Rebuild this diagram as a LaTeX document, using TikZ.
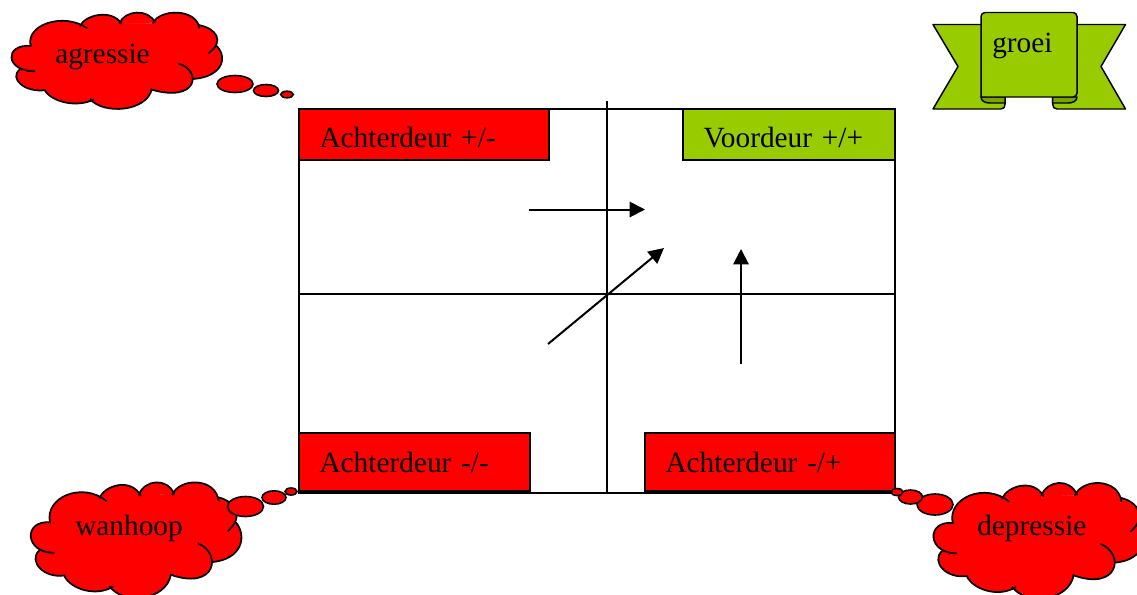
\documentclass[tikz,border=0pt]{standalone}
\usepackage{fontspec}
\setmainfont[WordSpace=0.75]{Liberation Serif}
\usetikzlibrary{arrows.meta,shapes.geometric}
\definecolor{doorred}{HTML}{FF0000}
\definecolor{growgreen}{HTML}{99CC00}
\definecolor{folddark}{HTML}{7AA300}
\def\px{.75pt}
\def\cloudarcs{92/138/75/75/190/35/262/85,240/78/255/45/335/25/365/72,358/70/375/30/445/25/465/68,458/70/480/25/590/25/598/85,595/75/650/85/675/125/625/160,650/138/685/175/665/230/580/237,535/190/610/215/590/310/452/268,455/268/440/335/310/345/270/297,282/298/230/325/155/305/135/272,138/270/75/280/25/235/60/208,105/214/15/215/10/130/95/138}
\tikzset{
	label text/.style={font=\fontsize{22}{26}\selectfont,inner sep=0pt,anchor=base west},
	doorbox/.style 2 args={draw,line width=1.2pt,fill=#2,anchor=north west,outer sep=0pt,inner xsep=20.5*\px,inner ysep=0pt,text width=(#1-41)*\px,align=left,font=\fontsize{22}{26}\selectfont},
	doorrow/.style 2 args={text height=#1*\px,text depth=#2*\px},
	bubble/.style 2 args={ellipse,draw,line width=1.2pt,fill=doorred,inner sep=0pt,minimum width=#1*\px,minimum height=#2*\px},
	ribbonpart/.style={draw,line width=1.1pt,fill=growgreen,line join=round},
	move/.style={line width=1.5pt,-{Triangle[length=11.5pt,width=11.5pt]}},
	cloudblob/.pic={
		\begin{scope}[xscale=1/3,yscale=1/3,shift={(-32,-37)}]
			\filldraw[fill=doorred,draw=doorred,line width=.6pt] (95,138)--(245,80)--(360,70)--(460,70)--(595,80)--(640,150)--(580,237)--(455,270)--(275,297)--(135,272)--(60,210)--cycle;
			\foreach \ax/\ay/\bx/\by/\cx/\cy/\dx/\dy in \cloudarcs {\filldraw[fill=doorred,draw=doorred,line width=.6pt] (\ax,\ay) .. controls (\bx,\by) and (\cx,\cy) .. (\dx,\dy) -- cycle;}
			\foreach \ax/\ay/\bx/\by/\cx/\cy/\dx/\dy in \cloudarcs {\draw[line width=1.3pt] (\ax,\ay) .. controls (\bx,\by) and (\cx,\cy) .. (\dx,\dy);}
		\end{scope}
	}
}
\begin{document}
\begin{tikzpicture}[x=\px,y=-\px]
	\clip (0,0) rectangle (1137,594);
	% frame with cross
	\node[draw,line width=1.2pt,anchor=north west,outer sep=0pt,inner sep=0pt,minimum width=596*\px,minimum height=384*\px] (frame) at (299,109) {};
	\coordinate (crosstop) at (606.7,101);
	\coordinate (crossbot) at (606.7,493);
	\coordinate (crossleft) at (299,294);
	\coordinate (crossright) at (895,294);
	\draw[line width=1.5pt] (crosstop) -- (crossbot);
	\draw[line width=1.2pt] (crossleft) -- (crossright);
	% doors
	\node[doorbox={250}{doorred},doorrow={38}{13}] (plusmin) at (299,109) {Achterdeur +/-};
	\node[doorbox={212}{growgreen},doorrow={38}{13}] (plusplus) at (683,109) {Voordeur +/+};
	\node[doorbox={231}{doorred},doorrow={39}{19}] (minmin) at (299,433) {Achterdeur -/-};
	\node[doorbox={250}{doorred},doorrow={39}{19}] (minplus) at (645,433) {Achterdeur -/+};
	% arrows
	\coordinate (moveaa) at (529,209.5);
	\coordinate (moveab) at (645,209.5);
	\coordinate (moveba) at (548,344);
	\coordinate (movebb) at (664,248);
	\coordinate (moveca) at (741,364);
	\coordinate (movecb) at (741,249);
	\draw[move] (moveaa) -- (moveab);
	\draw[move] (moveba) -- (movebb);
	\draw[move] (moveca) -- (movecb);
	% clouds
	\pic at (10.7,12.3) {cloudblob};
	\node[bubble={36}{17}] (agra) at (235,84) {};
	\node[bubble={25}{12}] (agrb) at (266,90.5) {};
	\node[bubble={12.6}{6.6}] (agrc) at (287,94.5) {};
	\node[label text] (agressie) at (55,63.5) {agressie};
	\pic[yscale=1.2] at (30,482) {cloudblob};
	\node[bubble={36}{20}] (wana) at (245.5,506.5) {};
	\node[bubble={24}{13.4}] (wanb) at (274,497.5) {};
	\node[bubble={12}{7}] (wanc) at (291,491.5) {};
	\node[label text] (wanhoop) at (75,535.5) {wanhoop};
	\pic[yscale=1.2] at (932.7,482.6) {cloudblob};
	\node[bubble={36}{21}] (depa) at (935,504.5) {};
	\node[bubble={24}{14}] (depb) at (910.5,497) {};
	\node[bubble={12}{7}] (depc) at (897,492) {};
	\node[label text] (depressie) at (977,535.5) {depressie};
	% ribbon
	\draw[ribbonpart] (933,24.5) -- (990,24.5) -- (990,97) -- (1005,97) -- (1005,104) .. controls (1005,107) and (1004,109) .. (1001,109) -- (933,109) -- (958,66.5) -- cycle;
	\draw[ribbonpart] (1125.5,24.5) -- (1068,24.5) -- (1068,97) -- (1052.7,97) -- (1052.7,104) .. controls (1052.7,107) and (1054,109) .. (1057,109) -- (1125.5,109) -- (1101,66.5) -- cycle;
	\draw[ribbonpart,fill=folddark] (981,97) .. controls (981,101) and (985,103) .. (990,103) -- (1005,103) -- (1005,97) -- cycle;
	\draw[ribbonpart,fill=folddark] (1077,97) .. controls (1077,101) and (1073,103) .. (1068,103) -- (1052.7,103) -- (1052.7,97) -- cycle;
	\draw[ribbonpart] (981,97) {[rounded corners=3pt] -- (981,12.5) -- (1077,12.5) -- (1077,97)} -- cycle;
	\node[label text] (groei) at (992,52) {groei};
\end{tikzpicture}
\end{document}
